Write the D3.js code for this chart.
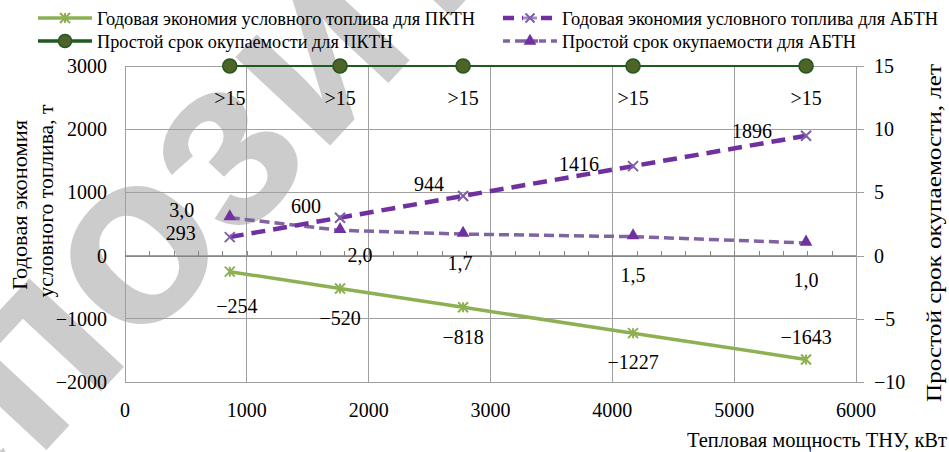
<!DOCTYPE html>
<html>
<head>
<meta charset="utf-8">
<script src="https://cdn.jsdelivr.net/npm/d3@7/dist/d3.min.js"></script>
<style>
  html, body { margin: 0; padding: 0; background: #fff; }
  svg { display: block; }
  svg text { font-family: "Liberation Serif", "Times New Roman", Times, "DejaVu Serif", "Noto Serif", serif; fill: #000; }
  svg text.wm { font-family: "Liberation Sans", Arial, "DejaVu Sans", sans-serif; font-weight: bold; fill: #cccccc; }
</style>
</head>
<body>
<svg id="chart" width="949" height="452"></svg>
<script>
// ---------- DATA ----------
const powerKW = [860, 1765, 2775, 4170, 5590];
const econPKTN = [-254, -520, -818, -1227, -1643];
const econABTN = [293, 600, 944, 1416, 1896];
const paybackPKTN = [15, 15, 15, 15, 15];            // plotted at the top of the right axis
const paybackPKTNText = [">15", ">15", ">15", ">15", ">15"];
const paybackABTN = [3.0, 2.0, 1.7, 1.5, 1.0];
const xTicks = [0, 1000, 2000, 3000, 4000, 5000, 6000];
const leftTicks = [-2000, -1000, 0, 1000, 2000, 3000];
const rightTicks = [-10, -5, 0, 5, 10, 15];
const seriesNames = [
  "Годовая экономия условного топлива для ПКТН",
  "Простой срок окупаемости для ПКТН",
  "Годовая экономия условного топлива для АБТН",
  "Простой срок окупаемости для АБТН"
];
const leftTitle = ["Годовая экономия", "условного топлива, т"];
const rightTitle = "Простой срок окупаемости, лет";
const xTitle = "Тепловая мощность ТНУ, кВт";
const watermark = "репозиторий";

// ---------- LAYOUT (label offsets from their points, px) ----------
const offEconPKTN = [[7, 34], [0, 30], [0, 30], [0, 29], [0, -22]];
const offEconABTN = [[-49, -4], [-34, -12], [-34, -12], [-54, -2], [-54, -5]];
const offPayPKTN = [[0, 32], [0, 32], [0, 32], [0, 32], [0, 32]];
const offPayABTN = [[-48, -8], [20, 25], [-3, 29], [0, 38], [0, 37]];

const C = {
  econP: "#8db152", payP: "#1f5a1f", payPFill: "#4f6228",
  econA: "#7030a0", payA: "#8064a2", triA: "#7030a0",
  grid: "#a0a0a0", axis: "#868686"
};

const svg = d3.select("#chart");
const x = d3.scaleLinear().domain([0, 6000]).range([125, 856]);
const yL = d3.scaleLinear().domain([-2000, 3000]).range([382, 66]);
const yR = d3.scaleLinear().domain([-10, 15]).range([382, 66]);
const fmt = v => String(v).replace("-", "\u2212");
const fmtDec = v => v.toFixed(1).replace(".", ",");

// squeeze/stretch a text element to the width it has in the reference
function fit(sel, target) {
  sel.each(function () {
    const w = this.getComputedTextLength();
    if (Math.abs(w - target) > 2) {
      d3.select(this).attr("textLength", target).attr("lengthAdjust", "spacingAndGlyphs");
    }
  });
  return sel;
}

// ---------- watermark ----------
(function () {
  const fs = 245;
  const g = svg.append("g").attr("transform", "translate(140,256) rotate(-47)");
  const t = g.append("text").attr("class", "wm").attr("font-size", fs);
  t.text("реп");
  const pre = t.node().getComputedTextLength();
  t.text("о");
  const ow = t.node().getComputedTextLength();
  t.text(watermark).attr("x", -(pre + ow / 2)).attr("y", 0.26 * fs);
})();

// ---------- grid ----------
const grid = svg.append("g");
grid.selectAll(".vg").data(xTicks).join("line")
  .attr("x1", d => x(d)).attr("x2", d => x(d)).attr("y1", yL(3000)).attr("y2", yL(-2000))
  .attr("stroke", C.grid).attr("stroke-width", 1).attr("shape-rendering", "crispEdges");
grid.selectAll(".hg").data(leftTicks).join("line")
  .attr("x1", x(0)).attr("x2", x(6000)).attr("y1", d => yL(d)).attr("y2", d => yL(d))
  .attr("stroke", C.grid).attr("stroke-width", 1).attr("shape-rendering", "crispEdges");

// zero line with minor ticks (x axis)
const xAxis = d3.axisTop(x).tickValues(d3.range(0, 6001, 200)).tickSize(5).tickFormat("");
const xa = svg.append("g").attr("transform", `translate(0,${yL(0)})`).call(xAxis);
xa.selectAll("path, line").attr("stroke", C.axis).attr("shape-rendering", "crispEdges");

// right axis
const rAxis = d3.axisRight(yR).tickValues(rightTicks).tickSize(8).tickFormat("");
const ra = svg.append("g").attr("transform", `translate(${x(6000)},0)`).call(rAxis);
ra.selectAll("path, line").attr("stroke", C.grid).attr("shape-rendering", "crispEdges");

// tick labels
svg.append("g").selectAll("text").data(leftTicks).join("text")
  .attr("x", 107).attr("y", d => yL(d)).attr("dy", "0.35em").attr("text-anchor", "end")
  .attr("font-size", 20).text(d => fmt(d));
svg.append("g").selectAll("text").data(rightTicks).join("text")
  .attr("x", 874).attr("y", d => yR(d)).attr("dy", "0.35em").attr("text-anchor", "start")
  .attr("font-size", 20).text(d => fmt(d));
svg.append("g").selectAll("text").data(xTicks).join("text")
  .attr("x", d => x(d)).attr("y", 410).attr("dy", "0.35em").attr("text-anchor", "middle")
  .attr("font-size", 20).text(d => d);

// axis titles
const lt1 = svg.append("text").attr("transform", "translate(20,205) rotate(-90)")
  .attr("text-anchor", "middle").attr("dy", "0.35em").attr("font-size", 20).text(leftTitle[0]);
fit(lt1, 170);
const lt2 = svg.append("text").attr("transform", "translate(46,201) rotate(-90)")
  .attr("text-anchor", "middle").attr("dy", "0.35em").attr("font-size", 20).text(leftTitle[1]);
fit(lt2, 193);
const rt = svg.append("text").attr("transform", "translate(934,233) rotate(-90)")
  .attr("text-anchor", "middle").attr("dy", "0.35em").attr("font-size", 21).text(rightTitle);
fit(rt, 338);
const xt = svg.append("text").attr("x", 947).attr("y", 440).attr("dy", "0.35em")
  .attr("text-anchor", "end").attr("font-size", 20).text(xTitle);
fit(xt, 260);

// ---------- markers ----------
function starPath(s) {
  const h = s / 2;
  return `M${-h},${-h}L${h},${h}M${-h},${h}L${h},${-h}M0,${-h}L0,${h}`;
}
function xPath(s) {
  const h = s / 2;
  return `M${-h},${-h}L${h},${h}M${-h},${h}L${h},${-h}`;
}
const tri = d3.symbol().type(d3.symbolTriangle).size(70)();

// ---------- series ----------
const idx = d3.range(powerKW.length);
const lineL = arr => d3.line().x(i => x(powerKW[i])).y(i => yL(arr[i]))(idx);
const lineR = arr => d3.line().x(i => x(powerKW[i])).y(i => yR(arr[i]))(idx);

// ПКТН economy (green solid)
svg.append("path").attr("d", lineL(econPKTN)).attr("fill", "none")
  .attr("stroke", C.econP).attr("stroke-width", 3.5);
svg.append("g").selectAll("path").data(idx).join("path")
  .attr("transform", i => `translate(${x(powerKW[i])},${yL(econPKTN[i])})`)
  .attr("d", starPath(10)).attr("stroke", C.econP).attr("stroke-width", 2).attr("fill", "none");

// АБТН payback (light purple dashed)
svg.append("path").attr("d", lineR(paybackABTN)).attr("fill", "none")
  .attr("stroke", C.payA).attr("stroke-width", 3.5).attr("stroke-dasharray", "10,5");
svg.append("g").selectAll("path").data(idx).join("path")
  .attr("transform", i => `translate(${x(powerKW[i])},${yR(paybackABTN[i]) - 1})`)
  .attr("d", tri).attr("fill", C.triA);

// АБТН economy (purple thick dashed)
svg.append("path").attr("d", lineL(econABTN)).attr("fill", "none")
  .attr("stroke", C.econA).attr("stroke-width", 4.5).attr("stroke-dasharray", "14,8");
svg.append("g").selectAll("path").data(idx).join("path")
  .attr("transform", i => `translate(${x(powerKW[i])},${yL(econABTN[i])})`)
  .attr("d", xPath(10)).attr("stroke", "#7f5fa8").attr("stroke-width", 2).attr("fill", "none");

// ПКТН payback (dark green with circles)
svg.append("path").attr("d", lineR(paybackPKTN)).attr("fill", "none")
  .attr("stroke", C.payP).attr("stroke-width", 2.2);
svg.append("g").selectAll("circle").data(idx).join("circle")
  .attr("cx", i => x(powerKW[i])).attr("cy", i => yR(paybackPKTN[i])).attr("r", 7)
  .attr("fill", C.payPFill).attr("stroke", C.payP).attr("stroke-width", 1.6);

// ---------- data labels ----------
function labels(arr, yS, texts, offs) {
  svg.append("g").selectAll("text").data(idx).join("text")
    .attr("x", i => x(powerKW[i]) + offs[i][0])
    .attr("y", i => yS(arr[i]) + offs[i][1])
    .attr("dy", "0.35em").attr("text-anchor", "middle").attr("font-size", 20)
    .text(i => texts[i]);
}
labels(econPKTN, yL, econPKTN.map(fmt), offEconPKTN);
labels(econABTN, yL, econABTN.map(fmt), offEconABTN);
labels(paybackPKTN, yR, paybackPKTNText, offPayPKTN);
labels(paybackABTN, yR, paybackABTN.map(fmtDec), offPayABTN);

// ---------- legend ----------
const legend = [
  { x: 38, y: 18, name: seriesNames[0], stroke: C.econP, w: 3.5, dash: null, mk: "star", len: 378 },
  { x: 38, y: 41, name: seriesNames[1], stroke: C.payP, w: 3.5, dash: null, mk: "circle", len: 296 },
  { x: 503, y: 18, name: seriesNames[2], stroke: C.econA, w: 4.5, dash: "11,8", mk: "x", len: 376 },
  { x: 503, y: 41, name: seriesNames[3], stroke: C.payA, w: 3.5, dash: "7,5", mk: "tri", len: 294 }
];
const lg = svg.append("g").selectAll("g").data(legend).join("g")
  .attr("transform", d => `translate(${d.x},${d.y})`);
lg.append("line").attr("x1", 0).attr("x2", 54).attr("y1", 0).attr("y2", 0)
  .attr("stroke", d => d.stroke).attr("stroke-width", d => d.w)
  .attr("stroke-dasharray", d => d.dash);
lg.each(function (d) {
  const m = d3.select(this).append("g").attr("transform", "translate(27,0)");
  if (d.mk === "star") m.append("path").attr("d", starPath(10)).attr("stroke", C.econP).attr("stroke-width", 2).attr("fill", "none");
  if (d.mk === "circle") m.append("circle").attr("r", 6.5).attr("fill", C.payPFill).attr("stroke", C.payP).attr("stroke-width", 1.5);
  if (d.mk === "x") {
    m.append("rect").attr("x", -7).attr("y", -4).attr("width", 14).attr("height", 8).attr("fill", "#fff");
    m.append("line").attr("x1", -7).attr("x2", 7).attr("stroke", "#a58ac4").attr("stroke-width", 3);
    m.append("path").attr("d", xPath(9)).attr("stroke", "#7f5fa8").attr("stroke-width", 2).attr("fill", "none");
  }
  if (d.mk === "tri") {
    m.append("rect").attr("x", -8).attr("y", -5).attr("width", 16).attr("height", 10).attr("fill", "#fff");
    m.append("line").attr("x1", -8).attr("x2", 8).attr("stroke", C.payA).attr("stroke-width", 3.5);
    m.append("path").attr("d", tri).attr("fill", C.triA);
  }
});
lg.append("text").attr("x", 59).attr("y", 0).attr("dy", "0.35em")
  .attr("font-size", 19).text(d => d.name)
  .each(function (d) { fit(d3.select(this), d.len); });
</script>
</body>
</html>
